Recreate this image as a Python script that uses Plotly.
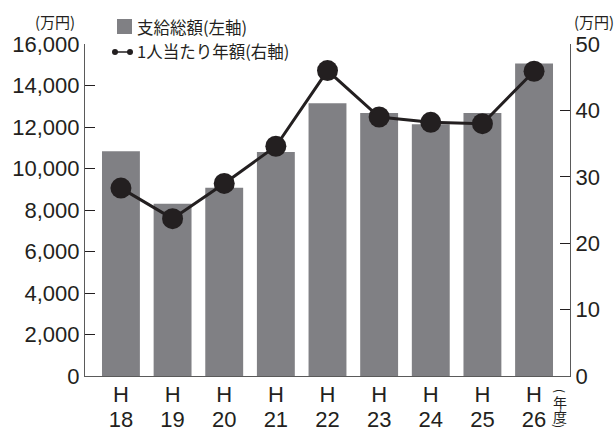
import plotly.graph_objects as go

categories = ["H18", "H19", "H20", "H21", "H22", "H23", "H24", "H25", "H26"]
era_labels = ["H", "H", "H", "H", "H", "H", "H", "H", "H"]
year_labels = ["18", "19", "20", "21", "22", "23", "24", "25", "26"]
total_payment = [10830, 8300, 9070, 10800, 13150, 12670, 12130, 12670, 15060]   # 支給総額 (万円, left axis)
per_person = [28.3, 23.7, 29.0, 34.6, 46.0, 39.0, 38.2, 38.0, 45.9]           # 1人当たり年額 (万円, right axis)

BAR = "#808084"
INK = "#231f20"
AXIS = "#5a5a5a"
NUM_FONT = "Liberation Sans, Arial, Helvetica, sans-serif"
CJK_FONT = "Noto Sans CJK JP, sans-serif"

W, H = 616, 432
ML, MR, MT, MB = 85, 46, 44, 56
PW, PH = W - ML - MR, H - MT - MB


def px(x):
    return (x - ML) / PW


def py(y):
    return (H - MB - y) / PH


tick_text = [
    f'<span style="font-size:22px">{e}</span><br><span style="font-size:22px">{y}</span>'
    for e, y in zip(era_labels, year_labels)
]

fig = go.Figure()
fig.add_trace(go.Bar(
    x=categories, y=total_payment, marker=dict(color=BAR, line=dict(width=0)),
    name="支給総額(左軸)", showlegend=False,
))
fig.add_trace(go.Scatter(
    x=categories, y=per_person, yaxis="y2", mode="lines+markers",
    line=dict(color=INK, width=3), marker=dict(color=INK, size=21),
    name="1人当たり年額(右軸)", showlegend=False,
))

fig.update_layout(
    width=W, height=H,
    margin=dict(l=ML, r=MR, t=MT, b=MB, autoexpand=False),
    paper_bgcolor="white", plot_bgcolor="white",
    bargap=0.266,
    font=dict(family=NUM_FONT, color=INK, size=21),
    xaxis=dict(
        type="category", range=[-0.696, 8.696], automargin=False,
        tickmode="array", tickvals=categories, ticktext=tick_text,
        showline=True, linecolor=AXIS, linewidth=1.2, ticks="",
        ticklabelstandoff=2,
        showgrid=False, zeroline=False,
        tickfont=dict(family=NUM_FONT, size=19, color=INK),
    ),
    yaxis=dict(
        range=[0, 16000], dtick=2000, tickformat=",", automargin=False,
        showline=True, linecolor=AXIS, linewidth=1.2,
        ticks="inside", ticklen=10, tickcolor=INK, tickwidth=1,
        showgrid=False, zeroline=False,
        tickfont=dict(family=NUM_FONT, size=22, color=INK),
    ),
    yaxis2=dict(
        range=[0, 50], dtick=10, overlaying="y", side="right", automargin=False,
        showline=True, linecolor=AXIS, linewidth=1.2,
        ticks="inside", ticklen=10, tickcolor=INK, tickwidth=1,
        showgrid=False, zeroline=False,
        tickfont=dict(family=NUM_FONT, size=22, color=INK),
    ),
)

shapes = [
    dict(type="rect", xref="paper", yref="paper",
         x0=px(117), x1=px(132), y0=py(34), y1=py(19),
         fillcolor=BAR, line=dict(width=0)),
    dict(type="line", xref="paper", yref="paper",
         x0=px(115), x1=px(130), y0=py(52), y1=py(52),
         line=dict(color=INK, width=1.5)),
    dict(type="circle", xref="paper", yref="paper",
         x0=px(112), x1=px(118), y0=py(55), y1=py(49),
         fillcolor=INK, line=dict(width=0)),
    dict(type="circle", xref="paper", yref="paper",
         x0=px(127), x1=px(133), y0=py(55), y1=py(49),
         fillcolor=INK, line=dict(width=0)),
]
fig.update_layout(shapes=shapes)

ann = [
    dict(text="支給総額(左軸)", x=px(135), y=py(27), xanchor="left", yanchor="middle",
         font=dict(family=CJK_FONT, size=16.5, color=INK)),
    dict(text="1人当たり年額(右軸)", x=px(135), y=py(51), xanchor="left", yanchor="middle",
         font=dict(family=CJK_FONT, size=16.5, color=INK)),
    dict(text="(万円)", x=px(55), y=py(21), xanchor="center", yanchor="middle",
         font=dict(family=CJK_FONT, size=15, color=INK)),
    dict(text="(万円)", x=px(594), y=py(21), xanchor="center", yanchor="middle",
         font=dict(family=CJK_FONT, size=15, color=INK)),
    dict(text="(", x=px(560), y=py(391), xanchor="center", yanchor="middle", textangle=90,
         font=dict(family=CJK_FONT, size=12, color=INK)),
    dict(text='<span style="font-size:14px">年</span><br><span style="font-size:14px">度</span>',
         x=px(560), y=py(409), xanchor="center", yanchor="middle",
         font=dict(family=CJK_FONT, size=11, color=INK)),
    dict(text=")", x=px(560), y=py(426), xanchor="center", yanchor="middle", textangle=90,
         font=dict(family=CJK_FONT, size=12, color=INK)),
]
for a in ann:
    a.update(xref="paper", yref="paper", showarrow=False)
fig.update_layout(annotations=ann)

fig.write_html("out.html", post_script="document.body.style.margin='0';",
               config={"displayModeBar": False})
